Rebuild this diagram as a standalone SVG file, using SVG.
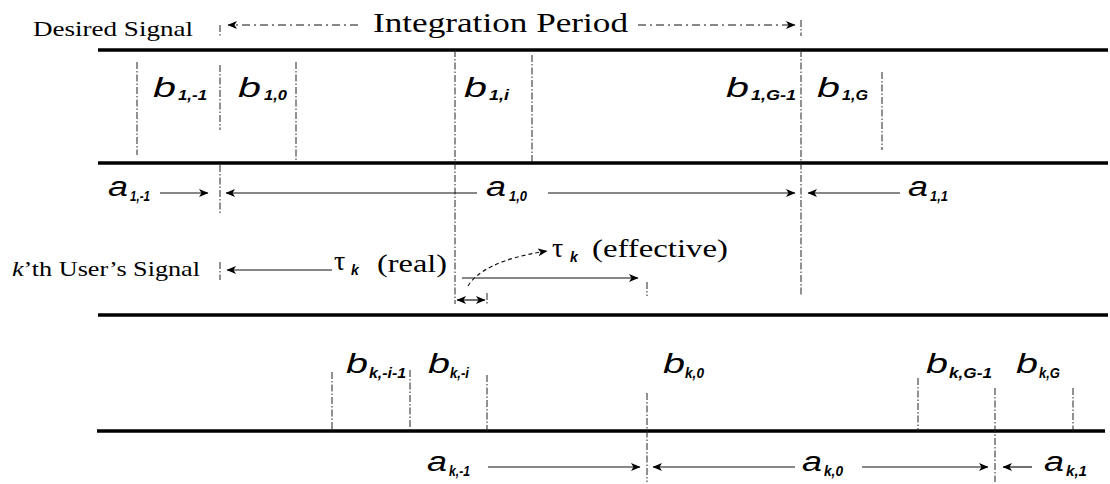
<svg xmlns="http://www.w3.org/2000/svg" width="1110" height="484" viewBox="0 0 1110 484">
<defs>
<marker id="ah" viewBox="0 0 10 9" refX="9" refY="4.5" markerWidth="10" markerHeight="9" markerUnits="userSpaceOnUse" orient="auto-start-reverse">
<path d="M0,0.5 L9.5,4.5 L0,8.5 L2.5,4.5 Z" fill="#000"/>
</marker>
</defs>
<style>
.rail{stroke:#000;stroke-width:3.5;fill:none}
.vd{stroke:#222;stroke-width:1;stroke-dasharray:7 2 1.5 2;fill:none}
.ar{stroke:#111;stroke-width:1.2;fill:none;marker-end:url(#ah)}
.arn{stroke:#111;stroke-width:1.2;fill:none}
.dash{stroke-dasharray:8 4 2 4}
.ser{font-family:"Liberation Serif","Times New Roman",serif;fill:#000}
.m{font-family:"Liberation Sans",Arial,sans-serif;font-style:italic;font-size:27px;fill:#000}
.s{font-family:"Liberation Sans",Arial,sans-serif;font-style:italic;font-weight:bold;font-size:14px;fill:#000}
</style>

<g id="rails">
<line class="rail" x1="98" y1="50" x2="1108" y2="50"/>
<line class="rail" x1="98" y1="163" x2="1108" y2="163"/>
<line class="rail" x1="98" y1="315" x2="1108" y2="315"/>
<line class="rail" x1="97" y1="431" x2="1105" y2="431"/>
</g>

<g id="boundaries">
<line class="vd" x1="137" y1="62" x2="137" y2="155"/>
<line class="vd" x1="220" y1="25" x2="220" y2="37"/>
<line class="vd" x1="220" y1="65" x2="220" y2="130"/>
<line class="vd" x1="220" y1="165" x2="220" y2="215"/>
<line class="vd" x1="220" y1="262" x2="220" y2="280"/>
<line class="vd" x1="296" y1="62" x2="296" y2="160"/>
<line class="vd" x1="455" y1="50" x2="455" y2="304"/>
<line class="vd" x1="532" y1="55" x2="532" y2="163"/>
<line class="vd" x1="801" y1="20" x2="801" y2="36"/>
<line class="vd" x1="801" y1="50" x2="801" y2="295"/>
<line class="vd" x1="882" y1="72" x2="882" y2="150"/>
<line class="vd" x1="332" y1="372" x2="332" y2="431"/>
<line class="vd" x1="410" y1="370" x2="410" y2="431"/>
<line class="vd" x1="487" y1="293" x2="487" y2="305"/>
<line class="vd" x1="487" y1="375" x2="487" y2="431"/>
<line class="vd" x1="647" y1="282" x2="647" y2="296"/>
<line class="vd" x1="647" y1="393" x2="647" y2="482"/>
<line class="vd" x1="918" y1="378" x2="918" y2="431"/>
<line class="vd" x1="995" y1="388" x2="995" y2="482"/>
<line class="vd" x1="1073" y1="388" x2="1073" y2="431"/>
</g>

<g id="connectors">
<line class="ar dash" x1="358" y1="25" x2="228" y2="25"/>
<line class="ar dash" x1="638" y1="25" x2="795" y2="25"/>
<line class="ar" x1="160" y1="193" x2="208" y2="193"/>
<line class="ar" x1="477" y1="193" x2="226" y2="193"/>
<line class="ar" x1="548" y1="193" x2="795" y2="193"/>
<line class="ar" x1="900" y1="193" x2="808" y2="193"/>
<line class="ar" x1="332" y1="270" x2="227" y2="270"/>
<line class="ar" x1="462" y1="278" x2="638" y2="278"/>
<line class="arn" x1="457" y1="300" x2="485" y2="300" style="marker-start:url(#ah);marker-end:url(#ah)"/>
<path class="ar" d="M468,286 C476,272 500,258 547,251" stroke-dasharray="4 3"/>
<line class="ar" x1="488" y1="467" x2="640" y2="467"/>
<line class="ar" x1="795" y1="467" x2="653" y2="467"/>
<line class="ar" x1="862" y1="467" x2="988" y2="467"/>
<line class="ar" x1="1032" y1="467" x2="1003" y2="467"/>
</g>

<g id="title-labels">
<text class="ser" x="33" y="36" font-size="21" textLength="160" lengthAdjust="spacingAndGlyphs">Desired Signal</text>
<text class="ser" x="373" y="32" font-size="27" textLength="255" lengthAdjust="spacingAndGlyphs">Integration Period</text>
<text class="ser" x="12" y="276" font-size="22" textLength="188" lengthAdjust="spacingAndGlyphs"><tspan font-style="italic">k</tspan>’th User’s Signal</text>
</g>

<g id="desired-bits">
<text class="m" x="153" y="97" textLength="23" lengthAdjust="spacingAndGlyphs">b</text><text class="s" x="178" y="100" textLength="29" lengthAdjust="spacingAndGlyphs">1,-1</text>
<text class="m" x="238" y="97" textLength="23" lengthAdjust="spacingAndGlyphs">b</text><text class="s" x="264" y="100" textLength="23" lengthAdjust="spacingAndGlyphs">1,0</text>
<text class="m" x="464" y="97" textLength="23" lengthAdjust="spacingAndGlyphs">b</text><text class="s" x="489" y="100" textLength="20" lengthAdjust="spacingAndGlyphs">1,i</text>
<text class="m" x="726" y="97" textLength="23" lengthAdjust="spacingAndGlyphs">b</text><text class="s" x="751" y="100" textLength="45" lengthAdjust="spacingAndGlyphs">1,G-1</text>
<text class="m" x="817" y="97" textLength="23" lengthAdjust="spacingAndGlyphs">b</text><text class="s" x="842" y="100" textLength="26" lengthAdjust="spacingAndGlyphs">1,G</text>
</g>

<g id="desired-amps">
<text class="m" x="108" y="196" textLength="20" lengthAdjust="spacingAndGlyphs">a</text><text class="s" x="130" y="201" textLength="20" lengthAdjust="spacingAndGlyphs">1,-1</text>
<text class="m" x="486" y="196" textLength="20" lengthAdjust="spacingAndGlyphs">a</text><text class="s" x="509" y="201" textLength="18" lengthAdjust="spacingAndGlyphs">1,0</text>
<text class="m" x="908" y="196" textLength="20" lengthAdjust="spacingAndGlyphs">a</text><text class="s" x="930" y="201" textLength="18" lengthAdjust="spacingAndGlyphs">1,1</text>
</g>

<g id="delays">
<text class="ser" x="552" y="257" font-size="28">τ</text><text class="s" x="570" y="262" font-size="12">k</text>
<text class="ser" x="592" y="257" font-size="26" textLength="136" lengthAdjust="spacingAndGlyphs">(effective)</text>
<text class="ser" x="334" y="270" font-size="28">τ</text><text class="s" x="351" y="275" font-size="12">k</text>
<text class="ser" x="377" y="272" font-size="26" textLength="70" lengthAdjust="spacingAndGlyphs">(real)</text>
</g>

<g id="user-bits">
<text class="m" x="346" y="373" textLength="22" lengthAdjust="spacingAndGlyphs">b</text><text class="s" x="369" y="378" textLength="37" lengthAdjust="spacingAndGlyphs">k,-i-1</text>
<text class="m" x="428" y="373" textLength="22" lengthAdjust="spacingAndGlyphs">b</text><text class="s" x="450" y="378" textLength="19" lengthAdjust="spacingAndGlyphs">k,-i</text>
<text class="m" x="663" y="373" textLength="22" lengthAdjust="spacingAndGlyphs">b</text><text class="s" x="685" y="378" textLength="19" lengthAdjust="spacingAndGlyphs">k,0</text>
<text class="m" x="926" y="373" textLength="22" lengthAdjust="spacingAndGlyphs">b</text><text class="s" x="949" y="378" textLength="43" lengthAdjust="spacingAndGlyphs">k,G-1</text>
<text class="m" x="1016" y="373" textLength="22" lengthAdjust="spacingAndGlyphs">b</text><text class="s" x="1039" y="378" textLength="21" lengthAdjust="spacingAndGlyphs">k,G</text>
</g>

<g id="user-amps">
<text class="m" x="427" y="471" textLength="20" lengthAdjust="spacingAndGlyphs">a</text><text class="s" x="449" y="476" textLength="21" lengthAdjust="spacingAndGlyphs">k,-1</text>
<text class="m" x="802" y="471" textLength="20" lengthAdjust="spacingAndGlyphs">a</text><text class="s" x="824" y="476" textLength="19" lengthAdjust="spacingAndGlyphs">k,0</text>
<text class="m" x="1044" y="471" textLength="20" lengthAdjust="spacingAndGlyphs">a</text><text class="s" x="1066" y="476" textLength="21" lengthAdjust="spacingAndGlyphs">k,1</text>
</g>
</svg>
